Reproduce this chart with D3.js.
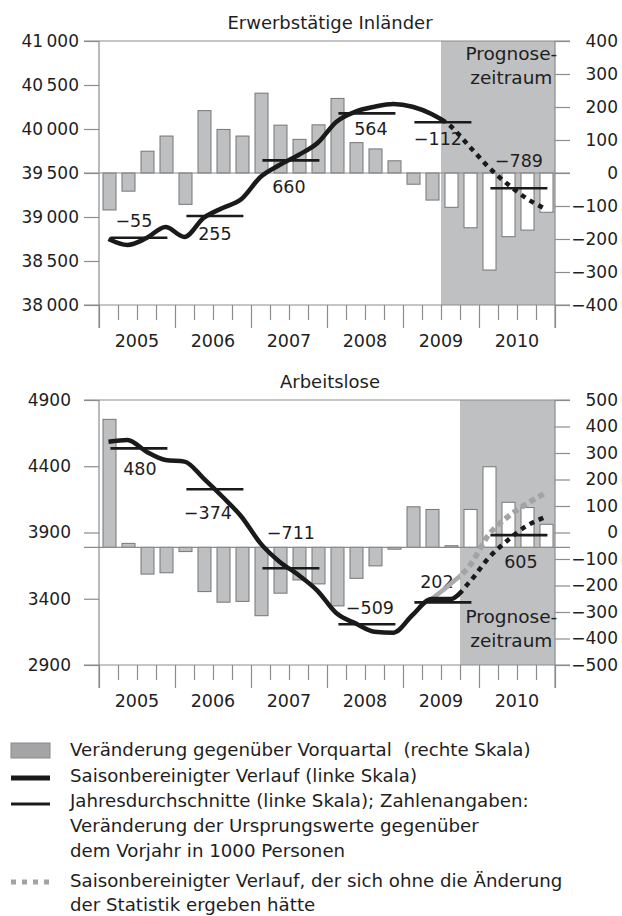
<!DOCTYPE html>
<html>
<head>
<meta charset="utf-8">
<script src="https://cdn.jsdelivr.net/npm/d3@7"></script>
<style>
  body { margin: 0; background: #fff; }
  svg text { font-family: "DejaVu Sans", sans-serif; fill: #1e1e1e; white-space: pre; }
</style>
</head>
<body>
<svg id="chart" width="622" height="916"></svg>
<script>
const years = ["2005", "2006", "2007", "2008", "2009", "2010"];

// Erwerbstätige Inländer (1000 Personen), quarterly 2005Q1 - 2010Q4
const empLevel = [38750, 38682, 38761, 38886, 38773, 38989, 39102, 39205,
  39455, 39591, 39705, 39841, 40083, 40197, 40253, 40284,
  40253, 40170, 40034, 39801, 39568, 39375, 39212, 39091];
const empChange = [-112, -55, 66, 112, -95, 189, 132, 112,
  242, 145, 102, 146, 226, 92, 73, 37,
  -34, -82, -104, -166, -294, -193, -173, -119];
const empAnnual = [38765, 39011, 39644, 40178, 40076, 39326];
const empAnnualLabels = ["−55", "255", "660", "564", "−112", "−789"];
const empTicksLeft = [38000, 38500, 39000, 39500, 40000, 40500, 41000];
const empTicksRight = [-400, -300, -200, -100, 0, 100, 200, 300, 400];

// Arbeitslose (1000 Personen)
const unempLevel = [4585, 4598, 4510, 4447, 4435, 4309, 4170, 4019,
  3818, 3680, 3579, 3460, 3290, 3214, 3151, 3144,
  3277, 3398, 3398, 3526, 3707, 3840, 3949, 4017];
// without the change of statistics
const unempOldStat = [null, null, null, null, null, null, null, null,
  null, null, null, null, null, null, null, null,
  null, 3398, 3511, 3647, 3881, 4017, 4115, 4200];
const unempChange = [483, 15, -101, -96, -16, -167, -207, -204,
  -258, -173, -123, -138, -221, -117, -70, -7,
  153, 143, 6, 143, 304, 170, 150, 87];
const unempAnnual = [4535, 4226, 3630, 3207, 3373, 3880];
const unempAnnualLabels = ["480", "−374", "−711", "−509", "202", "605"];
const unempTicksLeft = [2900, 3400, 3900, 4400, 4900];
const unempTicksRight = [-500, -400, -300, -200, -100, 0, 100, 200, 300, 400, 500];

const legendItems = [
  "Veränderung gegenüber Vorquartal  (rechte Skala)",
  "Saisonbereinigter Verlauf (linke Skala)",
  "Jahresdurchschnitte (linke Skala); Zahlenangaben:",
  "Veränderung der Ursprungswerte gegenüber",
  "dem Vorjahr in 1000 Personen",
  "Saisonbereinigter Verlauf, der sich ohne die Änderung",
  "der Statistik ergeben hätte"
];

const svg = d3.select("#chart");
const left = 99, right = 555;
const x = d3.scaleLinear().domain([0, 24]).range([left, right]);
const axisGray = "#8c8c8c";
const font = "DejaVu Sans";
const fs = 17;
const fmtThousand = d => {
  const s = String(Math.abs(d));
  const t = s.length > 4 ? s.slice(0, -3) + "\u2009" + s.slice(-3) : s;
  return (d < 0 ? "−" : "") + t;
};

function drawPanel(p) {
  const g = svg.append("g");
  const yL = d3.scaleLinear().domain(p.leftDomain).range([p.bottom, p.top]);
  const yR = d3.scaleLinear().domain(p.rightDomain).range([p.bottom, p.top]);

  // forecast shading
  g.append("rect")
    .attr("x", x(p.forecastFrom)).attr("y", p.top)
    .attr("width", x(24) - x(p.forecastFrom)).attr("height", p.bottom - p.top)
    .attr("fill", "#bfc0c2");

  g.append("text")
    .attr("x", (left + right) / 2 + 3).attr("y", p.top - 12)
    .attr("text-anchor", "middle").attr("font-size", 18)
    .text(p.title);

  // bars
  const bw = 13;
  const base = yR(p.barBase);
  g.append("g").selectAll("rect")
    .data(p.change)
    .join("rect")
    .attr("x", (d, i) => x(i + 0.5) - bw / 2 + 1)
    .attr("width", bw)
    .attr("y", d => Math.min(base, yR(p.barBase + d)))
    .attr("height", d => Math.abs(yR(p.barBase + d) - base))
    .attr("fill", (d, i) => i >= p.forecastFrom ? "#fff" : "#bebfc1")
    .attr("stroke", "#767676")
    .attr("stroke-width", 1);

  // left axis
  g.append("g")
    .attr("transform", `translate(${left},0)`)
    .call(d3.axisLeft(yL).tickValues(p.ticksLeft).tickSize(15).tickPadding(p.leftPad).tickFormat(fmtThousand))
    .call(a => a.select(".domain").remove())
    .call(a => a.selectAll("line").attr("stroke", axisGray).attr("stroke-width", 1.2))
    .call(a => a.selectAll("text").attr("font-size", fs).attr("font-family", font).attr("fill", "#1e1e1e"));

  // right axis
  g.append("g")
    .attr("transform", `translate(${right},0)`)
    .call(d3.axisRight(yR).tickValues(p.ticksRight).tickSize(15).tickPadding(4).tickFormat(fmtThousand))
    .call(a => a.select(".domain").remove())
    .call(a => a.selectAll("line").attr("stroke", axisGray).attr("stroke-width", 1.2))
    .call(a => a.selectAll("text").attr("font-size", fs).attr("font-family", font)
      .attr("fill", "#1e1e1e").attr("text-anchor", "end").attr("x", 63));

  // horizontal frame lines: top, bottom, bar base
  g.append("g").selectAll("line")
    .data([p.top, p.bottom, base])
    .join("line")
    .attr("x1", left - 15).attr("x2", right + 15)
    .attr("y1", d => d).attr("y2", d => d)
    .attr("stroke", axisGray).attr("stroke-width", 1.2);

  // quarter ticks
  g.append("g")
    .attr("transform", `translate(0,${p.bottom})`)
    .call(d3.axisBottom(x).tickValues(d3.range(25)).tickSize(15).tickFormat(""))
    .call(a => a.select(".domain").remove())
    .call(a => a.selectAll("line").attr("stroke", axisGray).attr("stroke-width", 1.2)
      .attr("y2", d => d % 4 === 0 ? 23 : 15));

  // vertical axis lines
  g.append("g").selectAll("line")
    .data([left, right])
    .join("line")
    .attr("x1", d => d).attr("x2", d => d)
    .attr("y1", p.top).attr("y2", p.bottom + 23)
    .attr("stroke", axisGray).attr("stroke-width", 1.2);

  // year labels
  g.append("g").selectAll("text")
    .data(years)
    .join("text")
    .attr("x", (d, i) => x(i * 4 + 2))
    .attr("y", p.bottom + 42)
    .attr("text-anchor", "middle").attr("font-size", 17.5)
    .text(d => d);

  // forecast caption
  const capX = x(21.7);
  const cap = g.append("text")
    .attr("x", capX).attr("text-anchor", "middle").attr("font-size", 18.5);
  cap.append("tspan").attr("x", capX).attr("y", p.captionY).text("Prognose-");
  cap.append("tspan").attr("x", capX).attr("y", p.captionY + 24).text("zeitraum");

  // annual average lines
  g.append("g").selectAll("line")
    .data(p.annual)
    .join("line")
    .attr("x1", (d, i) => x(i * 4 + 0.6))
    .attr("x2", (d, i) => x(i * 4 + 3.6))
    .attr("y1", d => yL(d)).attr("y2", d => yL(d))
    .attr("stroke", "#1a1a1a").attr("stroke-width", 2.6);

  g.append("g").selectAll("text")
    .data(p.annualLabels)
    .join("text")
    .attr("x", (d, i) => x(i * 4 + 2.1) + p.labelDx[i])
    .attr("y", (d, i) => yL(p.annual[i]) + p.labelDy[i])
    .attr("text-anchor", "middle").attr("font-size", 17.5)
    .text(d => d);

  // lines, solid before forecast start and dotted after
  const cut = x(p.forecastFrom) + p.cutShift;
  const clipA = "clipA" + p.id, clipB = "clipB" + p.id;
  const defs = svg.append("defs");
  defs.append("clipPath").attr("id", clipA).append("rect")
    .attr("x", 0).attr("y", 0).attr("width", cut).attr("height", 916);
  defs.append("clipPath").attr("id", clipB).append("rect")
    .attr("x", cut).attr("y", 0).attr("width", 622 - cut).attr("height", 916);

  const line = d3.line()
    .defined(d => d != null)
    .x((d, i) => x(i + 0.5))
    .y(d => yL(d))
    .curve(d3.curveMonotoneX);

  if (p.alt) {
    g.append("path").attr("d", line(p.alt)).attr("fill", "none")
      .attr("stroke", "#ababab").attr("stroke-width", 4.5).attr("clip-path", `url(#${clipA})`);
    g.append("path").attr("d", line(p.alt)).attr("fill", "none")
      .attr("stroke", "#a3a3a3").attr("stroke-width", 5.5)
      .attr("stroke-dasharray", "6,4").attr("clip-path", `url(#${clipB})`);
  }
  g.append("path").attr("d", line(p.level)).attr("fill", "none")
    .attr("stroke", "#1a1a1a").attr("stroke-width", 4.5)
    .attr("stroke-linejoin", "round").attr("clip-path", `url(#${clipA})`);
  g.append("path").attr("d", line(p.level)).attr("fill", "none")
    .attr("stroke", "#1a1a1a").attr("stroke-width", 4.5)
    .attr("stroke-dasharray", "5,5").attr("clip-path", `url(#${clipB})`);
}

drawPanel({
  id: "emp", title: "Erwerbstätige Inländer",
  top: 41, bottom: 305,
  leftDomain: [38000, 41000], rightDomain: [-400, 400],
  ticksLeft: empTicksLeft, ticksRight: empTicksRight, leftPad: 5,
  level: empLevel, change: empChange, barBase: 0,
  annual: empAnnual, annualLabels: empAnnualLabels,
  labelDx: [-5, 0, -2, 4, -5, 0], labelDy: [-11, 24, 33, 22, 23, -21],
  forecastFrom: 18, cutShift: 2, captionY: 60
});

drawPanel({
  id: "unemp", title: "Arbeitslose",
  top: 400, bottom: 665,
  leftDomain: [2900, 4900], rightDomain: [-500, 500],
  ticksLeft: unempTicksLeft, ticksRight: unempTicksRight, leftPad: 13,
  level: unempLevel, alt: unempOldStat, change: unempChange, barBase: -56,
  annual: unempAnnual, annualLabels: unempAnnualLabels,
  labelDx: [1, -7, 0, 3, -6, 2], labelDy: [27, 30, -29, -10, -14, 33],
  forecastFrom: 19, cutShift: 0, captionY: 623
});

// legend
const lg = svg.append("g");
lg.append("rect").attr("x", 11).attr("y", 743).attr("width", 39).attr("height", 15)
  .attr("fill", "#a4a4a6").attr("stroke", "#8a8a8a");
lg.append("line").attr("x1", 11).attr("x2", 50).attr("y1", 778).attr("y2", 778)
  .attr("stroke", "#1a1a1a").attr("stroke-width", 5);
lg.append("line").attr("x1", 11).attr("x2", 50).attr("y1", 804).attr("y2", 804)
  .attr("stroke", "#1a1a1a").attr("stroke-width", 2.8);
lg.append("line").attr("x1", 11).attr("x2", 50).attr("y1", 882).attr("y2", 882)
  .attr("stroke", "#a3a3a3").attr("stroke-width", 5).attr("stroke-dasharray", "5,6");
const rowY = [756, 782, 807, 832, 857, 887, 911];
lg.selectAll("text.lg")
  .data(legendItems)
  .join("text")
  .attr("class", "lg")
  .attr("x", 70).attr("y", (d, i) => rowY[i])
  .attr("font-size", 18.2)
  .text(d => d);
</script>
</body>
</html>
